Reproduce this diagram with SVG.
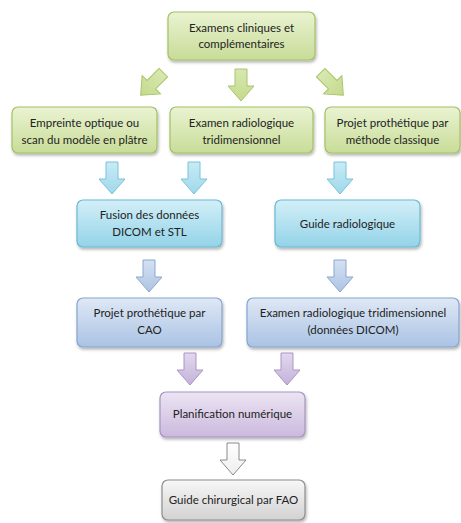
<svg xmlns="http://www.w3.org/2000/svg" xmlns:xlink="http://www.w3.org/1999/xlink" width="461" height="523" viewBox="0 0 461 523">
<defs>
<linearGradient id="gG" x1="0" y1="0" x2="0" y2="1"><stop offset="0" stop-color="#eaf3d2"/><stop offset="1" stop-color="#c8dc98"/></linearGradient>
<linearGradient id="gB" x1="0" y1="0" x2="0" y2="1"><stop offset="0" stop-color="#d3eff8"/><stop offset="1" stop-color="#93d3e8"/></linearGradient>
<linearGradient id="gS" x1="0" y1="0" x2="0" y2="1"><stop offset="0" stop-color="#dfe8f5"/><stop offset="1" stop-color="#aac3e4"/></linearGradient>
<linearGradient id="gP" x1="0" y1="0" x2="0" y2="1"><stop offset="0" stop-color="#ece4f3"/><stop offset="1" stop-color="#cbb9de"/></linearGradient>
<linearGradient id="gK" x1="0" y1="0" x2="0" y2="1"><stop offset="0" stop-color="#f7f7f7"/><stop offset="1" stop-color="#d2d2d2"/></linearGradient>
<linearGradient id="aG" x1="0" y1="0" x2="0" y2="1"><stop offset="0" stop-color="#d8e8b0"/><stop offset="1" stop-color="#c4da8c"/></linearGradient>
<linearGradient id="aB" x1="0" y1="0" x2="0" y2="1"><stop offset="0" stop-color="#c8ebf6"/><stop offset="1" stop-color="#9fd8ea"/></linearGradient>
<linearGradient id="aS" x1="0" y1="0" x2="0" y2="1"><stop offset="0" stop-color="#d5e1f2"/><stop offset="1" stop-color="#adc4e4"/></linearGradient>
<linearGradient id="aP" x1="0" y1="0" x2="0" y2="1"><stop offset="0" stop-color="#e2d8ee"/><stop offset="1" stop-color="#c4b2da"/></linearGradient>
<linearGradient id="aK" x1="0" y1="0" x2="0" y2="1"><stop offset="0" stop-color="#ffffff"/><stop offset="1" stop-color="#eeeeee"/></linearGradient>
<filter id="sh" x="-10%" y="-10%" width="125%" height="135%"><feDropShadow dx="1" dy="2" stdDeviation="1.5" flood-color="#000" flood-opacity="0.3"/></filter>
<path id="arr" d="M-6,-16 H6 V1 H13 L0,16 L-13,1 H-6 Z"/>
</defs>
<style>
.box{stroke-width:1.2;filter:url(#sh)}
.g{fill:url(#gG);stroke:#a4c165}
.b{fill:url(#gB);stroke:#6bbad3}
.s{fill:url(#gS);stroke:#86a5cf}
.p{fill:url(#gP);stroke:#a793c4}
.k{fill:url(#gK);stroke:#8e8e8e}
.ag{fill:url(#aG);stroke:#a9c46e}
.ab{fill:url(#aB);stroke:#78c2da}
.as{fill:url(#aS);stroke:#8aa7cf}
.ap{fill:url(#aP);stroke:#a996c5}
.ak{fill:url(#aK);stroke:#8a8a8a}
.a{stroke-width:1}
text{font-family:Lato,"Liberation Sans",sans-serif;font-size:11.5px;fill:#222;text-anchor:middle}
</style>
<g id="connectors">
<use xlink:href="#arr" class="a ag" transform="translate(152,84) rotate(45)"/>
<use xlink:href="#arr" class="a ag" transform="translate(241,85)"/>
<use xlink:href="#arr" class="a ag" transform="translate(332,84) rotate(-45)"/>
<use xlink:href="#arr" class="a ab" transform="translate(112,178)"/>
<use xlink:href="#arr" class="a ab" transform="translate(194,178)"/>
<use xlink:href="#arr" class="a ab" transform="translate(340,178)"/>
<use xlink:href="#arr" class="a as" transform="translate(149,276)"/>
<use xlink:href="#arr" class="a as" transform="translate(340,276)"/>
<use xlink:href="#arr" class="a ap" transform="translate(190,369)"/>
<use xlink:href="#arr" class="a ap" transform="translate(287,369)"/>
<use xlink:href="#arr" class="a ak" transform="translate(233,459)"/>
</g>
<g id="n1"><rect class="box g" x="168" y="12" width="147" height="48" rx="6"/><text x="241.5" y="32">Examens cliniques et</text><text x="241.5" y="48">complémentaires</text></g>
<g id="n2"><rect class="box g" x="12" y="107" width="145" height="46" rx="6"/><text x="84.5" y="127">Empreinte optique ou</text><text x="84.5" y="144">scan du modèle en plâtre</text></g>
<g id="n3"><rect class="box g" x="170" y="107" width="143" height="46" rx="6"/><text x="241.5" y="127">Examen radiologique</text><text x="241.5" y="144">tridimensionnel</text></g>
<g id="n4"><rect class="box g" x="325" y="107" width="135" height="46" rx="6"/><text x="392.5" y="127">Projet prothétique par</text><text x="392.5" y="144">méthode classique</text></g>
<g id="n5"><rect class="box b" x="77" y="200" width="145" height="47" rx="6"/><text x="149.5" y="219">Fusion des données</text><text x="149.5" y="236">DICOM et STL</text></g>
<g id="n6"><rect class="box b" x="275" y="200" width="145" height="47" rx="6"/><text x="347.5" y="228">Guide radiologique</text></g>
<g id="n7"><rect class="box s" x="77" y="298" width="145" height="49" rx="6"/><text x="149.5" y="317">Projet prothétique par</text><text x="149.5" y="334">CAO</text></g>
<g id="n8"><rect class="box s" x="247" y="298" width="212" height="49" rx="6"/><text x="353" y="317">Examen radiologique tridimensionnel</text><text x="353" y="334">(données DICOM)</text></g>
<g id="n9"><rect class="box p" x="160" y="392" width="145" height="45" rx="6"/><text x="232.5" y="418">Planification numérique</text></g>
<g id="n10"><rect class="box k" x="162" y="480" width="143" height="40" rx="6"/><text x="233.5" y="504">Guide chirurgical par FAO</text></g>
</svg>
